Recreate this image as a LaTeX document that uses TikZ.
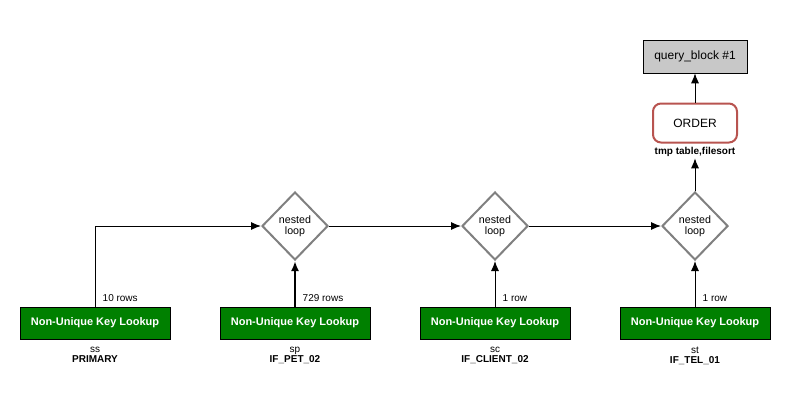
\documentclass[tikz,border=0pt]{standalone}
\usepackage{fontspec}
\setmainfont{Liberation Sans}
\usetikzlibrary{arrows.meta,positioning,shapes.geometric}
\definecolor{qbgreen}{HTML}{008000}
\definecolor{qbgray}{HTML}{C8C8C8}
\definecolor{qbred}{HTML}{B85450}
\definecolor{qbloop}{HTML}{808080}

\begin{document}
\begin{tikzpicture}[x=0.75pt,y=-0.75pt,
    lookup/.style={draw=black,fill=qbgreen,text=white,minimum width=112.5pt,minimum height=24pt,inner sep=0pt,font=\fontsize{8.25}{10}\selectfont\bfseries},
    nloop/.style={diamond,draw=qbloop,line width=1.5pt,fill=white,minimum width=49.5pt,minimum height=51pt,inner sep=0pt,align=center,font=\fontsize{8}{8.5}\selectfont},
    tbl/.style={align=center,font=\fontsize{7.5}{8}\selectfont},
    rows/.style={anchor=west,font=\fontsize{7.5}{9}\selectfont},
    flow/.style={draw=black,line width=0.75pt,-{Latex[length=7.5pt,width=6pt]}}]
  \useasboundingbox (0,0) rectangle (810,418);

  % query block and sort
  \node[draw=black,fill=qbgray,minimum width=78pt,minimum height=24.75pt,font=\fontsize{9}{11}\selectfont] (qblock) at (695,56.5) {query\_block \#1};
  \node[draw=qbred,line width=1.5pt,rounded corners=6pt,minimum width=63pt,minimum height=29.25pt,font=\fontsize{9}{11}\selectfont] (order) at (695,123) {ORDER};
  \node[tbl,font=\fontsize{7.5}{8}\selectfont\bfseries,inner sep=1pt] (orderlbl) at (695,152) {tmp table,filesort};

  % nested loops
  \node[nloop] (nl1) at (295,226) {nested\\loop};
  \node[nloop] (nl2) at (495,226) {nested\\loop};
  \node[nloop] (nl3) at (695,226) {nested\\loop};

  % table lookups
  \node[lookup] (ss) at (95,323) {Non-Unique Key Lookup};
  \node[lookup] (sp) at (295,323) {Non-Unique Key Lookup};
  \node[lookup] (sc) at (495,323) {Non-Unique Key Lookup};
  \node[lookup] (st) at (695,323) {Non-Unique Key Lookup};
  \node[tbl,below=2pt of ss] {ss\\\textbf{PRIMARY}};
  \node[tbl,below=2pt of sp] {sp\\\textbf{IF\_PET\_02}};
  \node[tbl,below=2pt of sc] {sc\\\textbf{IF\_CLIENT\_02}};
  \node[tbl,below=2pt of st] {st\\\textbf{IF\_TEL\_01}};

  \draw[flow] (ss.north) |- (nl1.west);
  \draw[flow,line width=1.8pt] (sp.north) -- (nl1.south);
  \draw[flow] (sc.north) -- (nl2.south);
  \draw[flow] (st.north) -- (nl3.south);
  \draw[flow] (nl1.east) -- (nl2.west);
  \draw[flow] (nl2.east) -- (nl3.west);
  \draw[flow] (nl3.north) -- (orderlbl.south);
  \draw[flow] (order.north) -- (qblock.south);

  \node[rows] at (98,298) {10 rows};
  \node[rows] at (298,298) {729 rows};
  \node[rows] at (498,298) {1 row};
  \node[rows] at (698,298) {1 row};
\end{tikzpicture}
\end{document}
